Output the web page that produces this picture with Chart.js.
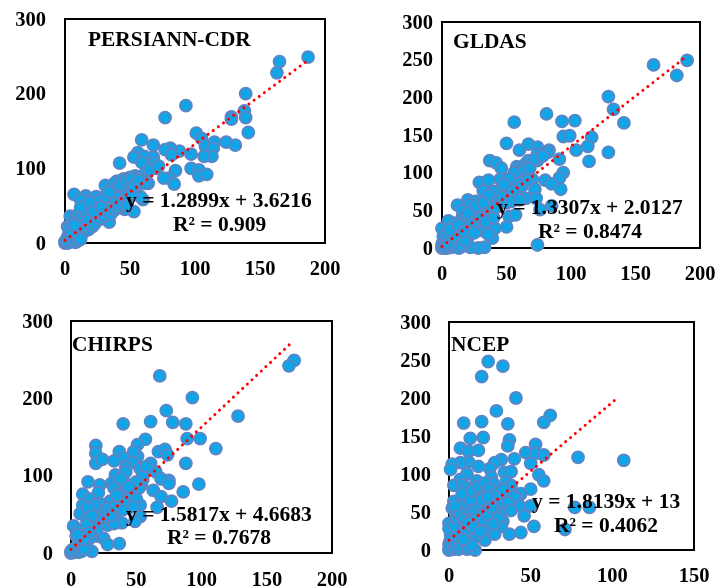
<!DOCTYPE html>
<html><head><meta charset="utf-8">
<style>html,body{margin:0;padding:0;background:#fff}#w{position:relative;width:716px;height:587px;overflow:hidden}canvas{position:absolute}</style>
<script src="https://cdn.jsdelivr.net/npm/chart.js@4"></script></head>
<body><div id="w"></div>
<script>
const persiannPoints=[[187,249],[165,243],[163,228],[139,200],[93,184],[77,168],[128,169],[128,166],[138,177],[139,168],[141,148],[101,147],[105,140],[108,130],[115,135],[124,135],[131,131],[114,127],[113,116],[107,116],[97,119],[88,123],[81,127],[77,125],[82,118],[59,138],[68,131],[56,121],[53,115],[61,116],[68,115],[59,108],[69,107],[42,107],[97,100],[103,98],[103,90],[109,92],[85,97],[80,87],[76,87],[84,79],[31,77],[62,94],[64,80],[70,100],[65,98],[72,103],
[0,0],[1,1],[1,3],[2,2],[3,5],[2,8],[4,4],[5,8],[3,12],[6,10],[8,6],[7,14],[10,10],[4,16],[2,22],[5,22],[9,20],[12,17],[14,14],[6,30],[11,28],[4,36],[8,34],[16,22],[18,18],[14,32],[20,25],[22,30],[10,38],[7,65],[16,63],[16,57],[12,58],[24,62],[24,53],[27,58],[28,42],[34,28],[53,42],[46,45],[40,55],[42,70],[36,75],[44,82],[48,78],[50,88],[54,90],[56,88],[45,86],[40,83],[47,72],[60,58],[58,62],[50,70],[55,75],[38,62],[34,45],[30,50],[26,36],[24,30],[19,38],[17,45],[21,48],[44,60],[38,80],[52,82],[62,80],[47,55],[36,52],[15,26],[13,22],[9,27],[20,35],[30,40],[42,48],
[0,2],[2,0],[3,1],[6,3],[8,1],[10,3],[12,5],[5,14],[7,24],[13,38],[16,40],[18,30],[21,22],[23,26],[27,32],[30,36],[32,42],[35,38],[38,44],[40,48],[43,52],[46,62],[49,60],[52,66],[33,55],[36,60],[39,68],[41,76],[43,78],[47,84],[51,86],[53,76],[57,84],[12,48],[19,55],[22,42],[28,48],[31,62],[34,68],[48,50]];
const gldasPoints=[[190,249],[164,243],[182,229],[129,201],[133,184],[141,166],[81,178],[56,167],[93,168],[103,169],[94,148],[99,149],[116,147],[50,139],[67,138],[74,134],[83,130],[60,130],[113,135],[104,130],[129,127],[114,115],[91,118],[74,125],[82,127],[67,116],[74,116],[37,116],[42,113],[46,106],[58,108],[56,95],[94,100],[91,93],[80,90],[70,91],[85,85],[92,78],[72,78],[29,87],[36,90],[45,91],[51,77],[32,76],[59,73],[65,66],[73,66],[76,51],[85,56],[52,42],[57,44],[50,28],[41,26],[39,13],[33,1],[28,0],[22,1],[74,4],[12,57],[20,64],[24,52],[28,62],[34,58],[38,46],[30,29],[5,36],[0,26],[4,21],
[60,105],[62,98],[65,112],[54,85],[58,88],[62,82],[52,70],[48,64],[44,60],[38,55],[36,40],[26,62],[22,58],[16,42],[14,32],[18,35],[20,28],[24,34],[28,42],[10,33],[12,20],[16,18],[20,14],[8,12],[12,8],[6,6],[3,10],[1,15],[0,5],[2,3],[0,0],[1,1],[4,0],[7,1],[10,2],[14,1],[17,3],[2,7],[5,14],[9,24],[15,10],[33,22],[36,18],[30,55],[42,68],[66,90],[55,75],
[0,1],[2,0],[3,3],[5,5],[9,5],[11,13],[13,0],[15,4],[18,10],[6,24],[13,30],[17,22],[25,20],[30,40],[34,35],[40,40],[42,54],[46,68],[50,60],[54,62],[60,64],[63,108],[56,100],[52,92],[48,84],[40,75],[36,70],[26,56],[16,50],[20,46],[32,60],[64,104],[68,106],[72,118],[78,122]];
const chirpsPoints=[[171,249],[167,242],[68,229],[93,201],[73,184],[128,177],[40,167],[61,170],[78,169],[88,167],[89,148],[99,148],[57,147],[51,140],[111,135],[19,139],[19,129],[37,131],[67,131],[72,134],[74,127],[51,125],[48,131],[40,123],[19,116],[24,121],[33,119],[47,117],[61,116],[88,116],[42,111],[53,109],[42,105],[34,101],[65,105],[98,89],[75,94],[69,96],[75,90],[13,92],[22,88],[31,90],[41,91],[54,88],[33,84],[86,79],[63,81],[69,73],[77,67],[66,59],[9,76],[21,78],[42,80],[48,72],[14,70],[30,67],[53,62],[9,62],[21,57],[17,60],[7,51],[35,52],[53,47],[49,41],[39,39],[28,36],[2,35],[6,30],[14,34],[20,22],[25,19],[28,11],[37,12],[16,2],[12,12],[4,22],
[0,0],[1,1],[2,2],[3,1],[5,3],[2,5],[7,4],[4,7],[8,14],[10,25],[18,42],[24,52],[26,46],[12,44],[44,58],[38,70],[45,64],[55,95],[52,84],[30,44],[33,38],[20,32],[15,20],[6,18],[9,9],[36,76],[25,60],
[0,2],[3,4],[1,4],[6,1],[8,2],[10,5],[12,28],[16,36],[22,64],[26,54],[18,62],[13,58],[16,48],[28,58],[31,48],[34,60],[40,56],[43,68],[46,76],[50,70],[48,60],[12,36],[14,26],[10,18],[5,24],[55,100],[58,112],[50,92],[44,86],[38,96],[35,75]];
const ncepPoints=[[24,248],[33,242],[20,228],[41,200],[29,183],[62,177],[58,168],[9,167],[20,169],[36,166],[37,145],[13,147],[21,148],[36,137],[53,139],[7,134],[12,130],[18,131],[47,128],[53,127],[58,125],[79,122],[107,118],[40,120],[32,119],[28,115],[12,116],[7,115],[2,113],[1,106],[18,110],[50,114],[25,107],[34,102],[38,103],[11,100],[55,99],[58,91],[7,93],[3,85],[8,86],[17,91],[26,96],[27,88],[35,90],[19,79],[32,77],[50,80],[44,74],[42,68],[43,58],[50,58],[77,56],[86,56],[46,45],[34,53],[26,48],[33,38],[52,31],[71,27],[32,31],[26,25],[44,23],[37,21],[28,21],[22,13],[16,0],[13,11],[17,18],[18,34],[6,58],[14,58],[2,55],[7,66],[0,35],
[0,0],[1,2],[2,5],[3,1],[5,3],[0,8],[1,14],[3,20],[6,8],[9,3],[11,1],[2,26],[6,28],[4,38],[8,36],[12,28],[14,44],[20,50],[23,60],[28,65],[12,72],[16,68],[22,76],[30,70],[36,74],[40,70],[9,50],[4,48],[10,20],[7,15],[24,38],[22,30],[28,50],[11,82],[33,62],[38,85],[16,40],[3,64],
[0,1],[1,5],[3,3],[4,10],[6,1],[7,5],[10,10],[12,2],[14,6],[1,20],[5,18],[9,14],[0,28],[3,32],[5,42],[7,46],[9,40],[12,36],[15,30],[19,24],[21,40],[24,46],[26,56],[15,54],[18,60],[20,66],[10,62],[13,66],[4,58],[8,74],[14,78],[18,84],[22,88],[25,80],[29,74],[33,80],[36,62],[38,52],[30,42],[27,34],[24,70]];
const persiannFit=[[0,3.62],[186,243.5]];
const gldasFit=[[0,2.01],[188,252.2]];
const chirpsFit=[[0,4.67],[168,270.4]];
const ncepFit=[[0,13],[104,201.6]];
const persiannXTicks=[0,50,100,150,200], persiannYTicks=[0,100,200,300];
const gldasXTicks=[0,50,100,150,200], gldasYTicks=[0,50,100,150,200,250,300];
const chirpsXTicks=[0,50,100,150,200], chirpsYTicks=[0,100,200,300];
const ncepXTicks=[0,50,100,150], ncepYTicks=[0,50,100,150,200,250,300];
const FONT='"Liberation Serif","Times New Roman",serif';
const toXY=a=>a.map(p=>({x:p[0],y:p[1]}));
function panel(c){
  const cv=document.createElement('canvas');
  cv.width=c.box[2];cv.height=c.box[3];
  cv.style.left=c.box[0]+'px';cv.style.top=c.box[1]+'px';
  cv.style.width=c.box[2]+'px';cv.style.height=c.box[3]+'px';
  document.getElementById('w').appendChild(cv);
  const [L,T,R,B]=c.plot;
  const frameText={id:'frameText',
    beforeDatasetsDraw(ch){const g=ch.ctx,a=ch.chartArea;g.save();g.strokeStyle='#000';g.lineWidth=2;g.strokeRect(a.left,a.top,a.right-a.left,a.bottom-a.top);g.restore();},
    afterDraw(ch){const g=ch.ctx;g.save();g.fillStyle='#000';g.textBaseline='alphabetic';g.textAlign='left';
      c.texts.forEach(t=>{g.font='bold '+t[3]+'px '+FONT;g.fillText(t[0],t[1]-c.box[0],t[2]-c.box[1]);});g.restore();}};
  new Chart(cv,{type:'scatter',
    data:{datasets:[
      {data:toXY(c.pts),backgroundColor:'#0fa6e8',borderColor:'#5b86c6',borderWidth:2,pointRadius:5.9,pointHoverRadius:5.9,clip:false,order:2},
      {type:'line',data:toXY(c.fit),borderColor:'#ff0000',borderWidth:3,borderDash:[0.01,6.35],borderCapStyle:'round',pointRadius:0,fill:false,tension:0,clip:false,order:1}
    ]},
    plugins:[frameText],
    options:{responsive:false,animation:false,events:[],
      layout:{padding:{left:0,top:T-c.box[1],right:c.box[0]+c.box[2]-R,bottom:0}},
      plugins:{legend:{display:false},tooltip:{enabled:false}},
      scales:{
        x:{type:'linear',min:c.xt[0],max:c.xt[c.xt.length-1],grid:{display:false,drawTicks:false},border:{display:false},
          afterBuildTicks(s){s.ticks=c.xt.map(v=>({value:v}));},
          afterFit(s){s.height=c.box[1]+c.box[3]-B;s.paddingLeft=0;s.paddingRight=0;},
          ticks:{color:'#000',font:{family:FONT,weight:'bold',size:20.5},padding:c.xpad,maxRotation:0,autoSkip:false}},
        y:{type:'linear',min:0,max:300,grid:{display:false,drawTicks:false},border:{display:false},
          afterBuildTicks(s){s.ticks=c.yt.map(v=>({value:v}));},
          afterFit(s){s.width=L-c.box[0];s.paddingTop=0;s.paddingBottom=0;
            if(!s._nudged){s._nudged=true;const f=s._computeLabelItems.bind(s);
              s._computeLabelItems=a=>{const r=f(a);r.forEach(i=>{i.options.translation[1]+=1.5;});return r;};}},
          ticks:{color:'#000',font:{family:FONT,weight:'bold',size:20.5},padding:c.ypad,autoSkip:false}}
      }}});
}
panel({box:[0,0,358,293],plot:[65,19,325,243],pts:persiannPoints,fit:persiannFit,xt:persiannXTicks,yt:persiannYTicks,xpad:14,ypad:19,
  texts:[['PERSIANN-CDR',88,46,21.4],['y = 1.2899x + 3.6216',126,207,21.5],['R² = 0.909',173,231,21.5]]});
panel({box:[358,0,358,293],plot:[442,22,700,248],pts:gldasPoints,fit:gldasFit,xt:gldasXTicks,yt:gldasYTicks,xpad:14,ypad:9,
  texts:[['GLDAS',453,48,21.4],['y = 1.3307x + 2.0127',497,214,21.5],['R² = 0.8474',538,238,21.5]]});
panel({box:[0,293,358,294],plot:[71,321,332,553],pts:chirpsPoints,fit:chirpsFit,xt:chirpsXTicks,yt:chirpsYTicks,xpad:15,ypad:18,
  texts:[['CHIRPS',72,351,21.4],['y = 1.5817x + 4.6683',126,521,21.5],['R² = 0.7678',167,544,21.5]]});
panel({box:[358,293,358,294],plot:[449,322,694,550],pts:ncepPoints,fit:ncepFit,xt:ncepXTicks,yt:ncepYTicks,xpad:14,ypad:18,
  texts:[['NCEP',451,351,21.4],['y = 1.8139x + 13',532,508,21.5],['R² = 0.4062',554,532,21.5]]});
</script></body></html>
